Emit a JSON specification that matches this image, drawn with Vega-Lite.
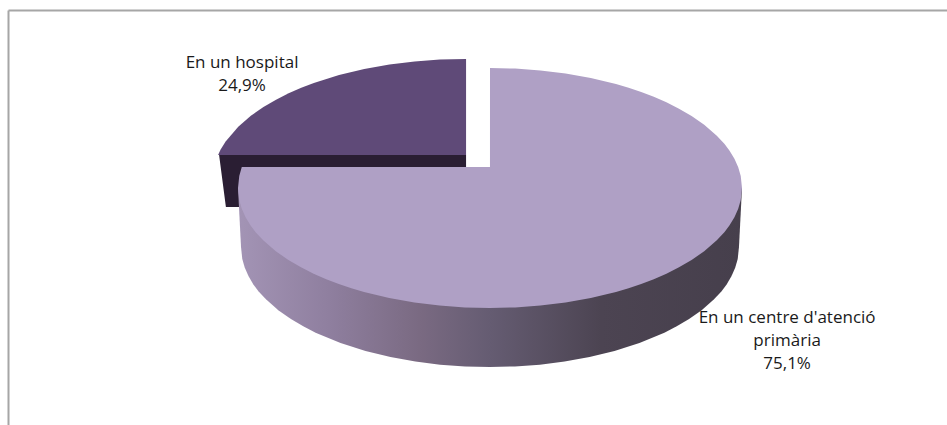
{
  "$schema": "https://vega.github.io/schema/vega-lite/v6.json",
  "width": 939,
  "height": 415,
  "padding": {"left": 8, "top": 10, "right": 0, "bottom": 0},
  "autosize": {"type": "none"},
  "background": "white",
  "config": {"view": {"stroke": null}},
  "datasets": {
    "slices": [
      {"category": "En un hospital", "value": 24.9, "label": "En un hospital\n24,9%", "u": -98.4, "v": 104.2},
      {"category": "En un centre d'atenció primària", "value": 75.1, "label": "En un centre d'atenció\nprimària\n75,1%", "u": 117.9, "v": -108.3}
    ],
    "outline": [
      {"part": "hospital_side", "u": -107.5, "v": 27.5, "v2": 27.5},
      {"part": "hospital_side", "u": -104.8, "v": 27.5, "v2": -15.8},
      {"part": "hospital_side", "u": -97.21, "v": 27.5, "v2": -15.8},
      {"part": "hospital_side", "u": -97.2, "v": 27.5, "v2": 16.7},
      {"part": "hospital_side", "u": -9.5, "v": 27.5, "v2": 16.7},

      {"part": "hospital_top", "u": -107.9, "v": 27.5, "v2": 27.5},
      {"part": "hospital_top", "u": -106.9, "v": 32, "v2": 27.5},
      {"part": "hospital_top", "u": -104.9, "v": 38.7, "v2": 27.5},
      {"part": "hospital_top", "u": -99.9, "v": 51.1, "v2": 27.5},
      {"part": "hospital_top", "u": -94.9, "v": 60.2, "v2": 27.5},
      {"part": "hospital_top", "u": -89.9, "v": 67.5, "v2": 27.5},
      {"part": "hospital_top", "u": -84.9, "v": 73.6, "v2": 27.5},
      {"part": "hospital_top", "u": -79.9, "v": 78.9, "v2": 27.5},
      {"part": "hospital_top", "u": -74.9, "v": 83.5, "v2": 27.5},
      {"part": "hospital_top", "u": -69.9, "v": 87.5, "v2": 27.5},
      {"part": "hospital_top", "u": -59.9, "v": 94.1, "v2": 27.5},
      {"part": "hospital_top", "u": -49.9, "v": 99.2, "v2": 27.5},
      {"part": "hospital_top", "u": -39.9, "v": 102.9, "v2": 27.5},
      {"part": "hospital_top", "u": -29.9, "v": 105.5, "v2": 27.5},
      {"part": "hospital_top", "u": -19.9, "v": 107, "v2": 27.5},
      {"part": "hospital_top", "u": -9.5, "v": 107.5, "v2": 27.5},

      {"part": "main_side", "u": -100, "v": 0, "v2": 0},
      {"part": "main_side", "u": -98.8, "v": 0, "v2": -49.2},
      {"part": "main_side", "u": -98.3, "v": 0, "v2": -59.2},
      {"part": "main_side", "u": -97.3, "v": 0, "v2": -66.5},
      {"part": "main_side", "u": -95.8, "v": 0, "v2": -73.5},
      {"part": "main_side", "u": -93.9, "v": 0, "v2": -80.4},
      {"part": "main_side", "u": -91.9, "v": 0, "v2": -86},
      {"part": "main_side", "u": -88.9, "v": 0, "v2": -92.8},
      {"part": "main_side", "u": -84, "v": 0, "v2": -101.9},
      {"part": "main_side", "u": -79, "v": 0, "v2": -109.2},
      {"part": "main_side", "u": -74.1, "v": 0, "v2": -115.3},
      {"part": "main_side", "u": -69.2, "v": 0, "v2": -120.6},
      {"part": "main_side", "u": -59.3, "v": 0, "v2": -129.2},
      {"part": "main_side", "u": -49.4, "v": 0, "v2": -135.8},
      {"part": "main_side", "u": -39.5, "v": 0, "v2": -140.9},
      {"part": "main_side", "u": -29.6, "v": 0, "v2": -144.6},
      {"part": "main_side", "u": -19.8, "v": 0, "v2": -147.2},
      {"part": "main_side", "u": -9.9, "v": 0, "v2": -148.7},
      {"part": "main_side", "u": 0, "v": 0, "v2": -149.2},
      {"part": "main_side", "u": 9.9, "v": 0, "v2": -148.7},
      {"part": "main_side", "u": 19.8, "v": 0, "v2": -147.2},
      {"part": "main_side", "u": 29.6, "v": 0, "v2": -144.6},
      {"part": "main_side", "u": 39.5, "v": 0, "v2": -140.9},
      {"part": "main_side", "u": 49.4, "v": 0, "v2": -135.8},
      {"part": "main_side", "u": 59.3, "v": 0, "v2": -129.2},
      {"part": "main_side", "u": 69.2, "v": 0, "v2": -120.6},
      {"part": "main_side", "u": 74.1, "v": 0, "v2": -115.3},
      {"part": "main_side", "u": 79, "v": 0, "v2": -109.2},
      {"part": "main_side", "u": 84, "v": 0, "v2": -101.9},
      {"part": "main_side", "u": 88.9, "v": 0, "v2": -92.8},
      {"part": "main_side", "u": 91.9, "v": 0, "v2": -86},
      {"part": "main_side", "u": 93.9, "v": 0, "v2": -80.4},
      {"part": "main_side", "u": 95.8, "v": 0, "v2": -73.5},
      {"part": "main_side", "u": 97.3, "v": 0, "v2": -66.5},
      {"part": "main_side", "u": 98.3, "v": 0, "v2": -59.2},
      {"part": "main_side", "u": 98.8, "v": 0, "v2": -49.2},
      {"part": "main_side", "u": 100, "v": 0, "v2": 0},

      {"part": "main_top", "u": -100, "v": 0, "v2": 0},
      {"part": "main_top", "u": -99.5, "v": 10, "v2": -10},
      {"part": "main_top", "u": -98.5, "v": 17.5, "v2": -17.3},
      {"part": "main_top", "u": -97, "v": 17.5, "v2": -24.3},
      {"part": "main_top", "u": -95, "v": 17.5, "v2": -31.2},
      {"part": "main_top", "u": -93, "v": 17.5, "v2": -36.8},
      {"part": "main_top", "u": -90, "v": 17.5, "v2": -43.6},
      {"part": "main_top", "u": -85, "v": 17.5, "v2": -52.7},
      {"part": "main_top", "u": -80, "v": 17.5, "v2": -60},
      {"part": "main_top", "u": -75, "v": 17.5, "v2": -66.1},
      {"part": "main_top", "u": -70, "v": 17.5, "v2": -71.4},
      {"part": "main_top", "u": -65, "v": 17.5, "v2": -76},
      {"part": "main_top", "u": -60, "v": 17.5, "v2": -80},
      {"part": "main_top", "u": -55, "v": 17.5, "v2": -83.5},
      {"part": "main_top", "u": -50, "v": 17.5, "v2": -86.6},
      {"part": "main_top", "u": -40, "v": 17.5, "v2": -91.7},
      {"part": "main_top", "u": -30, "v": 17.5, "v2": -95.4},
      {"part": "main_top", "u": -20, "v": 17.5, "v2": -98},
      {"part": "main_top", "u": -10, "v": 17.5, "v2": -99.5},
      {"part": "main_top", "u": -0.01, "v": 17.5, "v2": -100},
      {"part": "main_top", "u": 0, "v": 100, "v2": -100},
      {"part": "main_top", "u": 10, "v": 99.5, "v2": -99.5},
      {"part": "main_top", "u": 20, "v": 98, "v2": -98},
      {"part": "main_top", "u": 30, "v": 95.4, "v2": -95.4},
      {"part": "main_top", "u": 40, "v": 91.7, "v2": -91.7},
      {"part": "main_top", "u": 50, "v": 86.6, "v2": -86.6},
      {"part": "main_top", "u": 55, "v": 83.5, "v2": -83.5},
      {"part": "main_top", "u": 60, "v": 80, "v2": -80},
      {"part": "main_top", "u": 65, "v": 76, "v2": -76},
      {"part": "main_top", "u": 70, "v": 71.4, "v2": -71.4},
      {"part": "main_top", "u": 75, "v": 66.1, "v2": -66.1},
      {"part": "main_top", "u": 80, "v": 60, "v2": -60},
      {"part": "main_top", "u": 85, "v": 52.7, "v2": -52.7},
      {"part": "main_top", "u": 90, "v": 43.6, "v2": -43.6},
      {"part": "main_top", "u": 93, "v": 36.8, "v2": -36.8},
      {"part": "main_top", "u": 95, "v": 31.2, "v2": -31.2},
      {"part": "main_top", "u": 97, "v": 24.3, "v2": -24.3},
      {"part": "main_top", "u": 98.5, "v": 17.3, "v2": -17.3},
      {"part": "main_top", "u": 99.5, "v": 10, "v2": -10},
      {"part": "main_top", "u": 100, "v": 0, "v2": 0}
    ]
  },
  "encoding": {
    "x": {
      "field": "u",
      "type": "quantitative",
      "scale": {"domain": [-191.27, 181.35], "nice": false, "zero": false},
      "axis": {"orient": "top", "title": null, "labels": false, "ticks": false, "grid": false, "domainColor": "#a6a6a6", "domainWidth": 2}
    },
    "y": {
      "field": "v",
      "type": "quantitative",
      "scale": {"domain": [-197.5, 148.33], "nice": false, "zero": false},
      "axis": {"orient": "left", "title": null, "labels": false, "ticks": false, "grid": false, "domainColor": "#a6a6a6", "domainWidth": 2}
    }
  },
  "layer": [
    {
      "data": {"name": "outline"},
      "transform": [{"filter": "datum.part === 'hospital_side'"}],
      "mark": {"type": "area", "color": "#2a1e33"},
      "encoding": {"y2": {"field": "v2"}}
    },
    {
      "data": {"name": "outline"},
      "transform": [{"filter": "datum.part === 'hospital_top'"}],
      "mark": {"type": "area", "color": "#5f4a78"},
      "encoding": {"y2": {"field": "v2"}}
    },
    {
      "data": {"name": "outline"},
      "transform": [{"filter": "datum.part === 'main_side'"}],
      "mark": {
        "type": "area",
        "color": {
          "gradient": "linear",
          "x1": 0, "y1": 0, "x2": 1, "y2": 0,
          "stops": [
            {"offset": 0, "color": "#a394b5"},
            {"offset": 0.18, "color": "#8f7f9f"},
            {"offset": 0.36, "color": "#7a6a82"},
            {"offset": 0.5, "color": "#655c72"},
            {"offset": 0.72, "color": "#4c4452"},
            {"offset": 1, "color": "#463f4c"}
          ]
        }
      },
      "encoding": {"y2": {"field": "v2"}}
    },
    {
      "data": {"name": "outline"},
      "transform": [{"filter": "datum.part === 'main_top'"}],
      "mark": {"type": "area", "color": "#afa0c5"},
      "encoding": {"y2": {"field": "v2"}}
    },
    {
      "data": {"name": "slices"},
      "mark": {"type": "text", "font": "Open Sans", "fontSize": 17, "color": "#1a1a1a", "align": "center", "baseline": "middle", "lineBreak": "\n", "lineHeight": 23},
      "encoding": {"text": {"field": "label", "type": "nominal"}}
    }
  ]
}
